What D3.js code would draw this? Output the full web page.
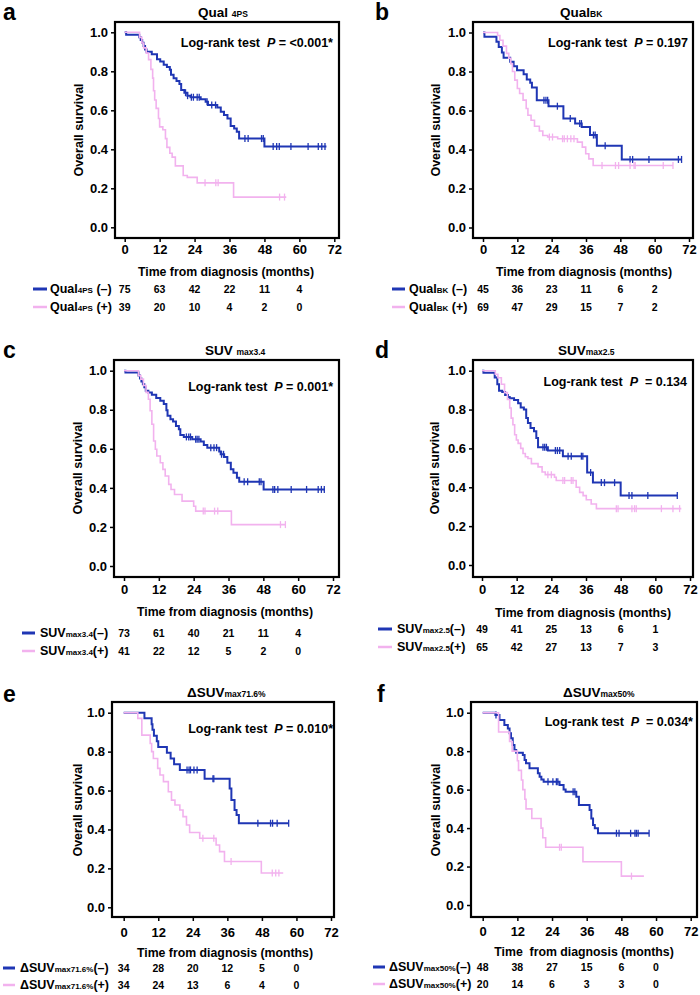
<!DOCTYPE html>
<html><head><meta charset="utf-8">
<script src="https://cdn.jsdelivr.net/npm/d3@7"></script>
<style>
body{margin:0;background:#fff}
svg{display:block}
text{font-family:"Liberation Sans",Arial,Helvetica,sans-serif;font-weight:bold;fill:#000}
</style>
</head><body>
<svg id="chart" width="700" height="995"></svg>
<script>
// ---------------- DATA ----------------
const xTicks = [0, 12, 24, 36, 48, 60, 72];
const yTicks = [0, 0.2, 0.4, 0.6, 0.8, 1.0];
const riskTimes = [0, 12, 24, 36, 48, 60];

// Panel a : Qual4PS
const qualPsNeg = [[0,1],[0.5,0.987],[5.0,0.974],[5.5,0.96],[6.0,0.947],[6.5,0.93],[7.0,0.912],[7.5,0.90],[9.3,0.888],[11.1,0.862],[12.2,0.85],[13.4,0.833],[14.5,0.822],[15.5,0.808],[15.9,0.782],[16.8,0.765],[17.8,0.75],[18.8,0.735],[19.4,0.704],[20.5,0.69],[21.5,0.675],[22.6,0.667],[26.1,0.657],[27.8,0.644],[28.6,0.627],[31.8,0.615],[33.0,0.593],[34.1,0.576],[35.3,0.558],[36.4,0.52],[37.6,0.507],[38.5,0.49],[39.3,0.455],[48.0,0.415]];
const qualPsNegEnd = 69.3;
const qualPsNegCensor = [20.9,21.6,22.9,23.6,24.9,25.6,28.3,29.9,31.2,41.3,42.4,47.0,47.6,51.0,52.2,53.1,57.1,63.0,66.5,67.7,68.8];
const qualPsPos = [[0,1],[5.1,0.974],[5.9,0.945],[6.5,0.92],[7.4,0.893],[8.2,0.86],[9.0,0.81],[9.6,0.765],[9.9,0.70],[10.3,0.653],[10.8,0.61],[11.6,0.558],[12.0,0.515],[13.1,0.50],[14.0,0.455],[14.5,0.41],[15.5,0.38],[16.3,0.36],[17.4,0.315],[20.1,0.266],[21.5,0.256],[24.9,0.228],[37.4,0.155]];
const qualPsPosEnd = 55.5;
const qualPsPosCensor = [27.6,31.3,32.1,53.2,54.9];
const qualPsRiskNeg = [75, 63, 42, 22, 11, 4];
const qualPsRiskPos = [39, 20, 10, 4, 2, 0];

// Panel b : QualBK
const qualBkNeg = [[0,1],[0.5,0.978],[4.7,0.953],[5.5,0.926],[6.6,0.897],[7.2,0.87],[9.5,0.85],[10.7,0.827],[11.9,0.807],[14.2,0.786],[15.3,0.759],[16.5,0.742],[17.1,0.718],[18.8,0.653],[22.9,0.622],[28.1,0.559],[32.2,0.533],[34.5,0.516],[37.4,0.474],[39.8,0.419],[48.5,0.349]];
const qualBkNegEnd = 69.4;
const qualBkNegCensor = [21.3,22.0,22.6,26.0,30.5,33.8,34.4,38.6,39.2,42.7,51.4,52.3,58.0,68.3,69.4];
const qualBkPos = [[0,1],[5.1,0.985],[5.9,0.96],[7.0,0.93],[8.2,0.893],[9.0,0.868],[9.7,0.84],[10.3,0.80],[11.1,0.756],[12.0,0.713],[12.8,0.687],[14.0,0.653],[15.1,0.61],[15.7,0.576],[16.8,0.55],[18.0,0.519],[19.7,0.495],[20.9,0.472],[22.6,0.464],[26.1,0.455],[33.0,0.438],[34.7,0.412],[35.9,0.378],[37.0,0.352],[38.5,0.318]];
const qualBkPosEnd = 66.4;
const qualBkPosCensor = [23.2,24.3,27.8,28.4,29.5,30.7,31.8,41.6,46.3,47.4,51.4,52.8,53.2,63.0,66.4];
const qualBkRiskNeg = [45, 36, 23, 11, 6, 2];
const qualBkRiskPos = [69, 47, 29, 15, 7, 2];

// Panel c : SUVmax3.4
const suv34Neg = [[0,1],[0.5,0.991],[5.0,0.975],[5.5,0.96],[6.0,0.945],[6.5,0.93],[7.0,0.915],[7.5,0.897],[8.4,0.889],[9.6,0.877],[11.1,0.86],[12.5,0.846],[13.7,0.829],[14.6,0.798],[15.0,0.769],[16.0,0.752],[16.9,0.74],[17.9,0.717],[18.9,0.70],[19.4,0.671],[20.6,0.661],[23.5,0.649],[26.4,0.637],[27.5,0.62],[28.7,0.606],[32.8,0.586],[33.3,0.572],[34.5,0.558],[35.6,0.529],[36.8,0.495],[37.7,0.478],[38.9,0.452],[39.7,0.432],[48.1,0.392]];
const suv34NegEnd = 69.2;
const suv34NegCensor = [21.5,22.3,22.9,24.7,25.2,25.8,29.9,31.0,31.9,33.6,34.3,41.4,42.6,46.6,47.2,51.3,51.9,53.0,57.6,62.9,66.9,68.0,69.0];
const suv34Pos = [[0,1],[5.0,0.975],[5.8,0.957],[6.7,0.924],[7.6,0.889],[8.4,0.854],[9.0,0.795],[9.6,0.726],[10.2,0.64],[10.8,0.598],[11.3,0.563],[12.5,0.529],[13.4,0.495],[14.2,0.461],[15.4,0.418],[16.2,0.392],[17.4,0.366],[20.0,0.332],[24.0,0.306],[24.7,0.281],[37.0,0.212]];
const suv34PosEnd = 55.8;
const suv34PosCensor = [27.3,27.9,31.2,32.3,53.9,55.6];
const suv34RiskNeg = [73, 61, 40, 21, 11, 4];
const suv34RiskPos = [41, 22, 12, 5, 2, 0];

// Panel d : SUVmax2.5
const suv25Neg = [[0,1],[0.5,0.99],[4.4,0.965],[5.3,0.93],[5.9,0.897],[7.0,0.89],[8.0,0.875],[9.0,0.865],[9.6,0.858],[11.1,0.849],[12.5,0.832],[13.4,0.81],[14.5,0.80],[15.3,0.757],[15.9,0.731],[16.8,0.705],[18.0,0.688],[18.8,0.654],[19.4,0.606],[22.8,0.589],[28.0,0.56],[36.4,0.476],[38.4,0.424],[48.0,0.358]];
const suv25NegEnd = 67.6;
const suv25NegCensor = [21.1,21.7,22.3,25.4,26.1,26.9,29.8,30.9,34.4,34.9,37.6,41.3,42.4,45.9,50.9,51.9,57.4,67.6];
const suv25Pos = [[0,1],[4.6,0.982],[5.5,0.964],[6.7,0.93],[7.8,0.887],[8.8,0.852],[9.6,0.808],[10.1,0.756],[10.7,0.722],[11.3,0.67],[11.9,0.643],[12.5,0.626],[13.4,0.60],[14.2,0.574],[15.0,0.557],[15.9,0.548],[17.1,0.522],[19.4,0.505],[20.8,0.479],[21.9,0.465],[25.1,0.452],[25.7,0.435],[32.6,0.40],[33.8,0.374],[35.0,0.357],[36.1,0.336],[37.8,0.314],[39.6,0.29]];
const suv25PosEnd = 69.0;
const suv25PosCensor = [22.8,24.0,28.0,28.6,30.9,31.5,46.5,47.1,51.9,52.8,53.4,62.1,66.1,68.4];
const suv25RiskNeg = [49, 41, 25, 13, 6, 1];
const suv25RiskPos = [65, 42, 27, 13, 7, 3];

// Panel e : dSUVmax71.6%
const d716Neg = [[0,1],[7.2,0.971],[9.7,0.941],[10.0,0.912],[10.5,0.882],[11.5,0.853],[12.0,0.824],[15.0,0.794],[16.3,0.765],[17.5,0.735],[19.5,0.706],[28.1,0.66],[36.8,0.611],[37.4,0.551],[38.5,0.50],[39.2,0.474],[40.0,0.432]];
const d716NegEnd = 57.3;
const d716NegCensor = [22.0,22.7,23.2,24.4,25.5,31.0,31.3,46.6,51.0,51.7,53.3,57.3];
const d716Pos = [[0,1],[4.9,0.971],[6.3,0.885],[9.2,0.842],[9.7,0.80],[10.3,0.765],[11.8,0.714],[12.6,0.68],[13.8,0.646],[15.5,0.594],[16.6,0.551],[17.8,0.526],[19.5,0.50],[20.6,0.466],[21.8,0.423],[22.9,0.384],[26.4,0.355],[32.1,0.32],[33.3,0.286],[35.0,0.235],[47.8,0.176]];
const d716PosEnd = 55.4;
const d716PosCensor = [27.5,31.3,37.3,51.6,52.8,53.9];
const d716RiskNeg = [34, 28, 20, 12, 5, 0];
const d716RiskPos = [34, 24, 13, 6, 4, 0];

// Panel f : dSUVmax50%
const d50Neg = [[0,1],[4.4,0.988],[5.8,0.962],[7.5,0.936],[8.7,0.918],[9.3,0.893],[9.8,0.867],[10.4,0.832],[11.0,0.806],[11.6,0.792],[13.9,0.78],[14.5,0.754],[15.0,0.737],[16.2,0.711],[19.1,0.685],[19.7,0.667],[20.3,0.653],[21.1,0.641],[26.6,0.624],[28.0,0.601],[28.7,0.589],[32.4,0.563],[33.3,0.52],[37.0,0.494],[37.6,0.45],[38.2,0.416],[38.8,0.399],[39.9,0.373]];
const d50NegEnd = 57.6;
const d50NegCensor = [4.6,22.6,24.3,25.5,26.0,31.3,31.9,46.3,47.2,51.2,52.7,53.2,53.8,57.6];
const d50Pos = [[0,1],[5.5,0.90],[9.3,0.85],[10.2,0.80],[12.0,0.75],[12.4,0.70],[13.4,0.65],[13.9,0.60],[14.6,0.55],[15.0,0.50],[17.0,0.45],[20.2,0.40],[20.8,0.35],[21.8,0.30],[34.7,0.225],[48.0,0.15]];
const d50PosEnd = 55.8;
const d50PosCensor = [26.6,27.2,51.5];
const d50RiskNeg = [48, 38, 27, 15, 6, 0];
const d50RiskPos = [20, 14, 6, 3, 3, 0];

// ---------------- LAYOUT ----------------
const BLUE = "#1f36b4", PINK = "#f2b2ee";
const panels = [
  {L:"a", title:["Qual ","4PS"], leg:["Qual","4PS"," (–)"," (+)"], p:"Log-rank test  ", pv:" = <0.001*",
   neg:qualPsNeg, negEnd:qualPsNegEnd, negC:qualPsNegCensor, pos:qualPsPos, posEnd:qualPsPosEnd, posC:qualPsPosCensor, rN:qualPsRiskNeg, rP:qualPsRiskPos,
   box:[115,22,339,238], x0:124.7, x72:334.3, y0:227.3, y1:32.3, lx:3, ly:20, tx:198, ty:17, lrx:333, lry:47, ytx:83, yty:130, xtx:226, xty:276, tickPad:3, rows:[293,311], legLine:[33,47], legX:50, xt:"Time from diagnosis (months)"},
  {L:"b", title:["Qual","BK"], leg:["Qual","BK"," (–)"," (+)"], p:"Log-rank test  ", pv:" = 0.197",
   neg:qualBkNeg, negEnd:qualBkNegEnd, negC:qualBkNegCensor, pos:qualBkPos, posEnd:qualBkPosEnd, posC:qualBkPosCensor, rN:qualBkRiskNeg, rP:qualBkRiskPos,
   box:[473,22,693,238], x0:483, x72:689, y0:227.5, y1:32.5, lx:375, ly:20, tx:560, ty:17, lrx:688, lry:47, ytx:440, yty:130, xtx:584, xty:276, tickPad:3, rows:[293,311], legLine:[392,405], legX:409, xt:"Time from diagnosis (months)"},
  {L:"c", title:["SUV ","max3.4"], leg:["SUV","max3.4","(–)","(+)"], p:"Log-rank test  ", pv:" = 0.001*",
   neg:suv34Neg, negEnd:suv34NegEnd, negC:suv34NegCensor, pos:suv34Pos, posEnd:suv34PosEnd, posC:suv34PosCensor, rN:suv34RiskNeg, rP:suv34RiskPos,
   box:[114,360,339,577], x0:124, x72:333, y0:566, y1:370.7, lx:3, ly:358, tx:205, ty:355, lrx:333, lry:391, ytx:82, yty:468, xtx:225, xty:616, tickPad:4, rows:[637,655], legLine:[22,35], legX:40, xt:"Time from diagnosis (months)"},
  {L:"d", title:["SUV","max2.5"], leg:["SUV","max2.5","(–)","(+)"], p:"Log-rank test  ", pv:"  = 0.134",
   neg:suv25Neg, negEnd:suv25NegEnd, negC:suv25NegCensor, pos:suv25Pos, posEnd:suv25PosEnd, posC:suv25PosCensor, rN:suv25RiskNeg, rP:suv25RiskPos,
   box:[473,360,693,577], x0:482, x72:690, y0:565, y1:370.7, lx:375, ly:358, tx:558, ty:355, lrx:687, lry:386, ytx:439, yty:468, xtx:583, xty:617, tickPad:4, rows:[633,651], legLine:[378,392], legX:397, xt:"Time from diagnosis (months)"},
  {L:"e", title:["ΔSUV","max71.6%"], leg:["ΔSUV","max71.6%","(–)","(+)"], p:"Log-rank test  ", pv:" = 0.010*",
   neg:d716Neg, negEnd:d716NegEnd, negC:d716NegCensor, pos:d716Pos, posEnd:d716PosEnd, posC:d716PosCensor, rN:d716RiskNeg, rP:d716RiskPos,
   box:[112,702,334,917], x0:123.7, x72:331, y0:907.3, y1:712.7, lx:3, ly:702, tx:187, ty:697, lrx:333, lry:733, ytx:82, yty:810, xtx:225, xty:957, tickPad:7, rows:[972,989], legLine:[3,15], legX:20, xt:"Time from diagnosis (months)"},
  {L:"f", title:["ΔSUV","max50%"], leg:["ΔSUV","max50%","(–)","(+)"], p:"Log-rank test  ", pv:"  = 0.034*",
   neg:d50Neg, negEnd:d50NegEnd, negC:d50NegCensor, pos:d50Pos, posEnd:d50PosEnd, posC:d50PosCensor, rN:d50RiskNeg, rP:d50RiskPos,
   box:[471,702,697,917], x0:482.7, x72:690.7, y0:905, y1:712.7, lx:377, ly:702, tx:563, ty:697, lrx:693, lry:726, ytx:440, yty:810, xtx:584, xty:956, tickPad:6, rows:[971,988], legLine:[373,385], legX:389, xt:"Time  from diagnosis (months)"}
];

const svg = d3.select("#chart");
const FONT = '"Liberation Sans",Arial,Helvetica,sans-serif';

function survAt(steps, t) {
  let s = steps[0][1];
  for (const d of steps) { if (d[0] <= t) s = d[1]; else break; }
  return s;
}

function drawCurve(g, x, y, steps, end, censor, color, width) {
  const pts = steps.concat([[end, steps[steps.length - 1][1]]]);
  const line = d3.line().x(d => x(d[0])).y(d => y(d[1])).curve(d3.curveStepAfter);
  g.append("path").attr("d", line(pts)).attr("fill", "none")
    .attr("stroke", color).attr("stroke-width", width);
  g.selectAll(null).data(censor).enter().append("line")
    .attr("x1", d => x(d)).attr("x2", d => x(d))
    .attr("y1", d => y(survAt(steps, d)) - 3.5).attr("y2", d => y(survAt(steps, d)) + 3.5)
    .attr("stroke", color).attr("stroke-width", 1.3);
}

panels.forEach(p => {
  const g = svg.append("g");
  const x = d3.scaleLinear().domain([0, 72]).range([p.x0, p.x72]);
  const y = d3.scaleLinear().domain([0, 1]).range([p.y0, p.y1]);
  const [bx0, by0, bx1, by1] = p.box;

  // panel letter
  g.append("text").attr("x", p.lx).attr("y", p.ly).attr("font-size", 23).text(p.L);

  // title
  const t = g.append("text").attr("x", p.tx).attr("y", p.ty).attr("font-size", 13.5);
  t.append("tspan").text(p.title[0]);
  t.append("tspan").attr("font-size", 8.5).text(p.title[1]);

  // axes
  const ya = g.append("g").attr("transform", `translate(${bx0},0)`)
    .call(d3.axisLeft(y).tickValues(yTicks).tickFormat(d3.format(".1f")).tickSize(4).tickPadding(3));
  ya.select(".domain").remove();
  ya.attr("font-family", FONT).attr("font-size", 13).attr("font-weight", "bold");
  ya.selectAll("line").attr("stroke-width", 1.5);

  const xa = g.append("g").attr("transform", `translate(0,${by1})`)
    .call(d3.axisBottom(x).tickValues(xTicks).tickSize(4).tickPadding(p.tickPad));
  xa.select(".domain").remove();
  xa.attr("font-family", FONT).attr("font-size", 13).attr("font-weight", "bold");
  xa.selectAll("line").attr("stroke-width", 1.5);

  // curves
  drawCurve(g, x, y, p.neg, p.negEnd, p.negC, BLUE, 2);
  drawCurve(g, x, y, p.pos, p.posEnd, p.posC, PINK, 1.6);

  // box
  g.append("rect").attr("x", bx0).attr("y", by0).attr("width", bx1 - bx0).attr("height", by1 - by0)
    .attr("fill", "none").attr("stroke", "#000").attr("stroke-width", 2.2);

  // log-rank
  const lr = g.append("text").attr("x", p.lrx).attr("y", p.lry).attr("text-anchor", "end").attr("font-size", 12.5)
    .style("white-space", "pre");
  lr.append("tspan").text(p.p);
  lr.append("tspan").attr("font-style", "italic").text("P");
  lr.append("tspan").text(p.pv);

  // axis titles
  g.append("text").attr("transform", `translate(${p.ytx},${p.yty}) rotate(-90)`)
    .attr("text-anchor", "middle").attr("font-size", 12.5).text("Overall survival");
  g.append("text").attr("x", p.xtx).attr("y", p.xty).attr("text-anchor", "middle")
    .attr("font-size", 12.3).style("white-space", "pre").text(p.xt);

  // risk table
  [[p.rN, BLUE, 3, p.leg[2]], [p.rP, PINK, 2.5, p.leg[3]]].forEach(([vals, col, sw, sign], i) => {
    const ry = p.rows[i];
    g.append("line").attr("x1", p.legLine[0]).attr("x2", p.legLine[1])
      .attr("y1", ry - 4).attr("y2", ry - 4).attr("stroke", col).attr("stroke-width", sw);
    const lt = g.append("text").attr("x", p.legX).attr("y", ry).attr("font-size", 12.5).style("white-space", "pre");
    lt.append("tspan").text(p.leg[0]);
    lt.append("tspan").attr("font-size", 8).text(p.leg[1]);
    lt.append("tspan").text(sign);
    g.selectAll(null).data(vals).enter().append("text")
      .attr("x", (d, j) => x(riskTimes[j])).attr("y", ry).attr("text-anchor", "middle")
      .attr("font-size", 10.5).text(d => d);
  });
});
</script>
</body></html>
